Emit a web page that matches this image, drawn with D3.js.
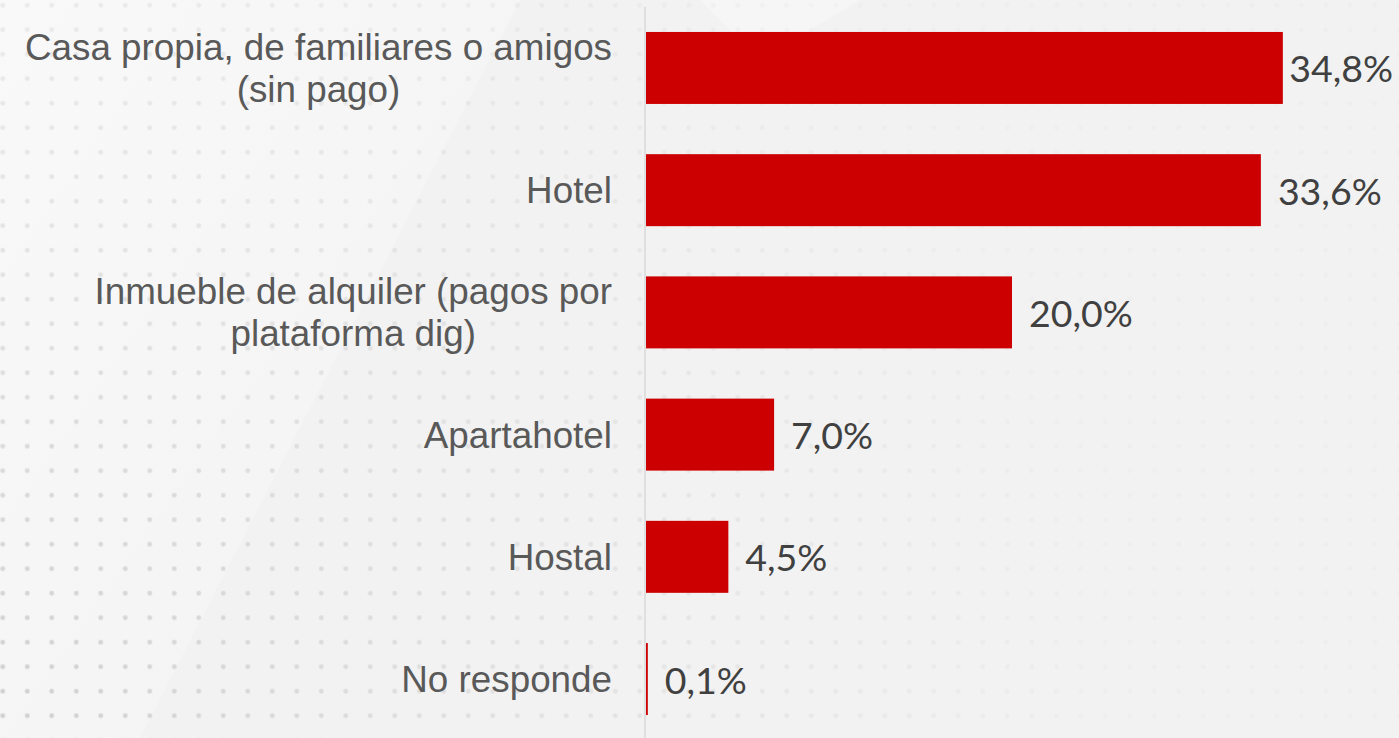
<!DOCTYPE html>
<html>
<head>
<meta charset="utf-8">
<script src="https://cdn.jsdelivr.net/npm/d3@7"></script>
<style>
  html, body { margin: 0; padding: 0; background: #f2f2f2; overflow: hidden; }
  svg { display: block; }
</style>
</head>
<body>
<svg id="chart"></svg>
<script>
'use strict';

const WIDTH = 1399;
const HEIGHT = 738;

// categories (line breaks as in the original slide)
const categories = [
  ["Casa propia, de familiares o amigos", "(sin pago)"],
  ["Hotel"],
  ["Inmueble de alquiler (pagos por", "plataforma dig)"],
  ["Apartahotel"],
  ["Hostal"],
  ["No responde"]
];
const values = [34.8, 33.6, 20.0, 7.0, 4.5, 0.1];

const BAR_COLOR = "#cc0000";
const LABEL_COLOR = "#595959";
const VALUE_COLOR = "#404040";
const AXIS_X = 645;
const LABEL_RIGHT = 612;
const VALUE_GAP = 17;

const locale = d3.formatLocale({ decimal: ",", thousands: ".", grouping: [3], currency: ["", "€"] });
const fmt = d => locale.format(".1f")(d) + "%";

const svg = d3.select("#chart").attr("width", WIDTH).attr("height", HEIGHT);

// ---- background: light grey, lighter diagonal sheen, dotted grid ----
const defs = svg.append("defs");

const sheen = defs.append("linearGradient").attr("id", "sheen")
  .attr("x1", "0").attr("y1", "0").attr("x2", "1").attr("y2", "1");
sheen.append("stop").attr("offset", "0%").attr("stop-color", "#ffffff").attr("stop-opacity", 0.9);
sheen.append("stop").attr("offset", "100%").attr("stop-color", "#ffffff").attr("stop-opacity", 0);

const dotPattern = defs.append("pattern").attr("id", "dots")
  .attr("patternUnits", "userSpaceOnUse")
  .attr("x", -9.5).attr("y", -7)
  .attr("width", 24.5).attr("height", 24.5);
dotPattern.append("circle").attr("cx", 12.25).attr("cy", 12.25).attr("r", 2.4).attr("fill", "#cfcfcf");

const fade = defs.append("radialGradient").attr("id", "fade")
  .attr("gradientUnits", "userSpaceOnUse")
  .attr("cx", 0).attr("cy", HEIGHT).attr("r", 1100);
fade.append("stop").attr("offset", "0%").attr("stop-color", "#fff").attr("stop-opacity", 1);
fade.append("stop").attr("offset", "45%").attr("stop-color", "#fff").attr("stop-opacity", 0.5);
fade.append("stop").attr("offset", "100%").attr("stop-color", "#fff").attr("stop-opacity", 0.1);
defs.append("mask").attr("id", "dotMask")
  .append("rect").attr("width", WIDTH).attr("height", HEIGHT).attr("fill", "url(#fade)");

svg.append("rect").attr("width", WIDTH).attr("height", HEIGHT).attr("fill", "#f2f2f2");
svg.append("path")
  .attr("d", `M0,0 L520,0 L140,${HEIGHT} L0,${HEIGHT} Z`)
  .attr("fill", "url(#sheen)").attr("opacity", 0.6);
svg.append("path")
  .attr("d", `M700,0 L860,0 L760,60 Z`)
  .attr("fill", "#ffffff").attr("opacity", 0.35);
svg.append("rect").attr("width", WIDTH).attr("height", HEIGHT)
  .attr("fill", "url(#dots)").attr("mask", "url(#dotMask)");

// ---- scales ----
const y = d3.scaleBand()
  .domain(d3.range(categories.length))
  .range([8, 739])
  .paddingInner(0.411)
  .paddingOuter(0.196);

const x = d3.scaleLinear()
  .domain([0, 35])
  .range([AXIS_X + 1, AXIS_X + 1 + 35 * 18.3]);

// ---- bars ----
svg.append("g").selectAll("rect")
  .data(values)
  .enter()
  .append("rect")
  .attr("x", x(0))
  .attr("y", (d, i) => y(i))
  .attr("width", d => Math.max(1.5, x(d) - x(0)))
  .attr("height", y.bandwidth())
  .attr("fill", BAR_COLOR);

// vertical axis line
svg.append("line")
  .attr("x1", AXIS_X).attr("x2", AXIS_X)
  .attr("y1", 7).attr("y2", HEIGHT)
  .attr("stroke", "#d9d9d9").attr("stroke-width", 1.5);

// ---- category labels ----
const LINE_H = 42;
const labels = svg.append("g")
  .attr("font-family", "'Liberation Sans', Arial, sans-serif")
  .attr("font-size", 36.8)
  .attr("fill", LABEL_COLOR)
  .attr("text-anchor", "middle");

categories.forEach((lines, i) => {
  const cy = y(i) + y.bandwidth() / 2;
  const t = labels.append("text").attr("dominant-baseline", "central");
  lines.forEach((ln, k) => {
    t.append("tspan").text(ln).attr("x", 0).attr("y", cy + (k - (lines.length - 1) / 2) * LINE_H);
  });
  // right-align the block, centre the lines inside it
  const w = t.node().getBBox().width;
  t.selectAll("tspan").attr("x", LABEL_RIGHT - w / 2);
});

// ---- value labels ----
const vals = svg.append("g")
  .attr("font-family", "Lato, 'Open Sans', sans-serif")
  .attr("font-size", 37.5)
  .attr("fill", VALUE_COLOR);

values.forEach((v, i) => {
  const t = vals.append("text")
    .attr("y", y(i) + y.bandwidth() / 2)
    .attr("dominant-baseline", "central")
    .text(fmt(v));
  const w = t.node().getComputedTextLength();
  t.attr("x", Math.min(x(v) + VALUE_GAP, WIDTH - 6 - w));
});
</script>
</body>
</html>
